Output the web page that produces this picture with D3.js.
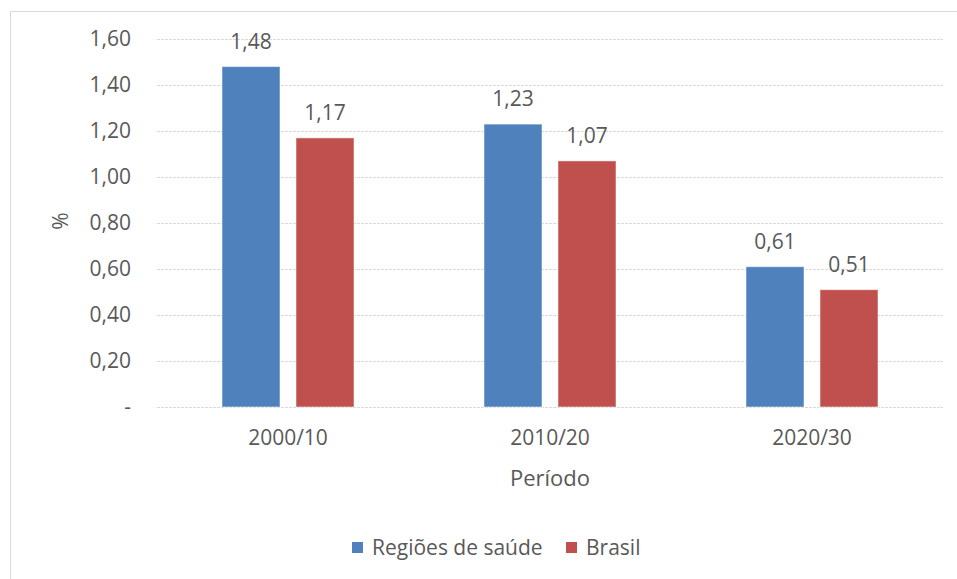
<!DOCTYPE html>
<html>
<head>
<meta charset="utf-8">
<script src="https://cdn.jsdelivr.net/npm/d3@7"></script>
<style>
	body { margin: 0; background: #fff; }
	text { font-family: "Open Sans", "Noto Sans", sans-serif; fill: #595959; }
</style>
</head>
<body>
<div id="content"></div>
<script>
var periods = ["2000/10", "2010/20", "2020/30"];
var seriesNames = ["Regiões de saúde", "Brasil"];
var regioes = [1.48, 1.23, 0.61];
var brasil = [1.17, 1.07, 0.51];
var yTicks = [0, 0.2, 0.4, 0.6, 0.8, 1.0, 1.2, 1.4, 1.6];
var colors = ["#4f81bd", "#c0504d"];

function fmt(v) {
	if (v === 0) return "-";
	return v.toFixed(2).replace(".", ",");
}

function main() {
	var width = 957, height = 579;
	var svg = d3.select("#content").append("svg")
		.attr("width", width)
		.attr("height", height);

	// chart frame
	svg.append("rect")
		.attr("x", 10.5).attr("y", 11.5)
		.attr("width", 960).attr("height", 580)
		.attr("fill", "none")
		.attr("stroke", "#d9d9d9");

	var left = 157, right = 943, top = 39, bottom = 407;

	var x = d3.scaleBand().domain(periods).range([left, right]);
	var y = d3.scaleLinear().domain([0, 1.6]).range([bottom, top]);

	// gridlines
	svg.append("g").selectAll("line")
		.data(yTicks)
		.enter().append("line")
		.attr("x1", left).attr("x2", right)
		.attr("y1", function (d) { return Math.round(y(d)) + 0.5; })
		.attr("y2", function (d) { return Math.round(y(d)) + 0.5; })
		.attr("stroke", "#d9d9d9")
		.attr("stroke-dasharray", "3,1");

	// y tick labels
	svg.append("g").selectAll("text")
		.data(yTicks)
		.enter().append("text")
		.attr("x", 131)
		.attr("y", function (d) { return y(d); })
		.attr("dy", "0.35em")
		.attr("text-anchor", "end")
		.style("font-size", "21px")
		.text(fmt);

	var barW = 58, gap = 16;
	var rows = periods.map(function (p, i) {
		return [regioes[i], brasil[i]];
	});

	var groups = svg.append("g").selectAll("g")
		.data(rows)
		.enter().append("g")
		.attr("transform", function (d, i) {
			return "translate(" + (x(periods[i]) + x.bandwidth() / 2) + ",0)";
		});

	groups.selectAll("rect")
		.data(function (d) { return d; })
		.enter().append("rect")
		.attr("x", function (d, j) { return j === 0 ? -(barW + gap / 2) : gap / 2; })
		.attr("width", barW)
		.attr("y", function (d) { return y(d); })
		.attr("height", function (d) { return bottom - y(d); })
		.attr("fill", function (d, j) { return colors[j]; })
		.attr("stroke", "#fff")
		.attr("stroke-opacity", 0.5)
		.attr("stroke-width", 1);

	groups.selectAll("text")
		.data(function (d) { return d; })
		.enter().append("text")
		.attr("x", function (d, j) { return j === 0 ? -(barW / 2 + gap / 2) : gap / 2 + barW / 2; })
		.attr("y", function (d) { return y(d) - 18; })
		.attr("text-anchor", "middle")
		.style("font-size", "21px")
		.text(fmt);

	// x labels
	svg.append("g").selectAll("text")
		.data(periods)
		.enter().append("text")
		.attr("x", function (d) { return x(d) + x.bandwidth() / 2; })
		.attr("y", 445)
		.attr("text-anchor", "middle")
		.style("font-size", "21px")
		.text(function (d) { return d; });

	svg.append("text")
		.attr("x", 550).attr("y", 486)
		.attr("text-anchor", "middle")
		.style("font-size", "22px")
		.text("Período");

	svg.append("text")
		.attr("transform", "translate(68,221) rotate(-90)")
		.attr("text-anchor", "middle")
		.style("font-size", "21px")
		.text("%");

	// legend
	var legendX = [352, 566];
	var legend = svg.append("g").selectAll("g")
		.data(seriesNames)
		.enter().append("g")
		.attr("transform", function (d, i) { return "translate(" + legendX[i] + ",542)"; });
	legend.append("rect")
		.attr("width", 11).attr("height", 11)
		.attr("fill", function (d, i) { return colors[i]; });
	legend.append("text")
		.attr("x", 20).attr("y", 6)
		.attr("dy", "0.35em")
		.style("font-size", "21px")
		.text(function (d) { return d; });
}

main();
</script>
</body>
</html>
